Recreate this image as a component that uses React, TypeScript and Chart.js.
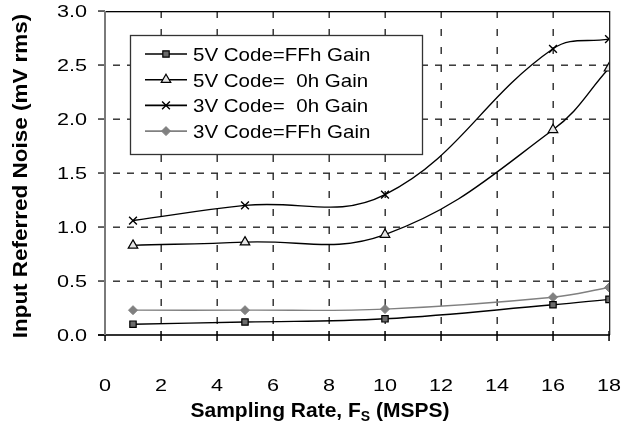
import React, { useEffect, useRef } from 'react';
import { Chart, registerables } from 'chart.js';
import { drawPoint } from 'chart.js/helpers';

Chart.register(...registerables);

// ---- data ----
const sampleRates = [1, 5, 10, 16, 18];
const v5CodeFFh = [0.10, 0.12, 0.15, 0.28, 0.33];
const v5Code0h = [0.83, 0.86, 0.93, 1.90, 2.47];
const v3Code0h = [1.06, 1.20, 1.30, 2.65, 2.74];
const v3CodeFFh = [0.23, 0.23, 0.24, 0.35, 0.44];
const seriesLabels = ['5V Code=FFh Gain', '5V Code=  0h Gain', '3V Code=  0h Gain', '3V Code=FFh Gain'];
const xTickValues = [0, 2, 4, 6, 8, 10, 12, 14, 16, 18];
const xTickLabels = ['0', '2', '4', '6', '8', '10', '12', '14', '16', '18'];
const yTickValues = [0, 0.5, 1, 1.5, 2, 2.5, 3];
const yTickLabels = ['0.0', '0.5', '1.0', '1.5', '2.0', '2.5', '3.0'];
const yTitle = 'Input Referred Noise (mV rms)';
const xTitleMain = 'Sampling Rate, F';
const xTitleSub = 'S';
const xTitleEnd = ' (MSPS)';

const FONT = '"Liberation Sans", Arial, sans-serif';

function stretchText(ctx: CanvasRenderingContext2D, text: string, x: number, y: number, font: string, sx: number, align: CanvasTextAlign) {
  ctx.save();
  ctx.font = font;
  ctx.translate(x, y);
  ctx.scale(sx, 1);
  ctx.textAlign = align;
  ctx.textBaseline = 'alphabetic';
  ctx.fillStyle = '#000';
  ctx.fillText(text, 0, 0);
  ctx.restore();
}

function drawGridAndFrame(chart: any) {
  const { ctx, chartArea: a } = chart;
  const xs = chart.scales['x'];
  const ys = chart.scales['y'];
  const left = Math.round(a.left);
  const right = Math.round(a.right);
  const top = Math.round(a.top);
  const bottom = Math.round(a.bottom);
  ctx.save();
  ctx.fillStyle = '#2a2a2a';
  // horizontal dashed grid, drawn as small filled rectangles
  for (let i = 1; i < yTickValues.length - 1; i++) {
    const y = Math.round(ys.getPixelForValue(yTickValues[i]));
    for (let d = left + 8; d < right; d += 14) {
      ctx.fillRect(d, y - 0.5, Math.min(7, right - d), 1.4);
    }
  }
  // vertical dashed grid
  for (let i = 1; i < xTickValues.length - 1; i++) {
    const x = Math.round(xs.getPixelForValue(xTickValues[i]));
    for (let d = top; d < bottom; d += 18) {
      ctx.fillRect(x - 0.5, d, 1.4, Math.min(7, bottom - d));
    }
  }
  // tick marks
  ctx.fillStyle = '#000000';
  for (let i = 0; i < xTickValues.length; i++) {
    const x = Math.round(xs.getPixelForValue(xTickValues[i]));
    ctx.fillRect(x - 0.7, bottom - 4, 1.5, 10);
  }
  ctx.fillStyle = '#333333';
  for (let i = 0; i < yTickValues.length; i++) {
    const y = Math.round(ys.getPixelForValue(yTickValues[i]));
    ctx.fillRect(left - 7, y - 0.7, 7, 1.5);
  }
  // frame: top and right
  ctx.fillStyle = '#000000';
  ctx.fillRect(left, top, right - left + 1, 1.3);
  ctx.fillStyle = '#222222';
  ctx.fillRect(right, top, 1.3, bottom - top);
  // x axis
  ctx.fillStyle = '#000000';
  ctx.fillRect(left - 7, bottom - 0.8, right - left + 8, 1.6);
  // y axis
  ctx.fillStyle = '#7a7a7a';
  ctx.fillRect(left - 1, top, 2, bottom - top);
  ctx.restore();
}

const gridPlugin = {
  id: 'customGrid',
  beforeDatasetsDraw(chart: any) {
    drawGridAndFrame(chart);
  },
};

const textPlugin = {
  id: 'texts',
  afterDraw(chart: any) {
    const { ctx } = chart;
    const xs = chart.scales['x'];
    const ys = chart.scales['y'];
    const tickFont = `16px ${FONT}`;
    yTickValues.forEach((v, i) => {
      stretchText(ctx, yTickLabels[i], 87, ys.getPixelForValue(v) + 5.7, tickFont, 1.35, 'right');
    });
    xTickValues.forEach((v, i) => {
      stretchText(ctx, xTickLabels[i], xs.getPixelForValue(v), 391, tickFont, 1.35, 'center');
    });

    // y title
    ctx.save();
    ctx.translate(27, 176);
    ctx.rotate(-Math.PI / 2);
    ctx.scale(1.07, 1);
    ctx.font = `bold 21px ${FONT}`;
    ctx.fillStyle = '#000';
    ctx.textAlign = 'center';
    ctx.textBaseline = 'alphabetic';
    ctx.fillText(yTitle, 0, 0);
    ctx.restore();

    // x title with subscript
    ctx.save();
    const mainFont = `bold 21px ${FONT}`;
    const subFont = `bold 14px ${FONT}`;
    ctx.font = mainFont;
    const w1 = ctx.measureText(xTitleMain).width;
    const w3 = ctx.measureText(xTitleEnd).width;
    ctx.font = subFont;
    const w2 = ctx.measureText(xTitleSub).width;
    const total = w1 + w2 + w3;
    let x = 320 - total / 2;
    const base = 417;
    ctx.fillStyle = '#000';
    ctx.textAlign = 'left';
    ctx.textBaseline = 'alphabetic';
    ctx.font = mainFont;
    ctx.fillText(xTitleMain, x, base);
    x += w1;
    ctx.font = subFont;
    ctx.fillText(xTitleSub, x, base + 4);
    x += w2;
    ctx.font = mainFont;
    ctx.fillText(xTitleEnd, x, base);
    ctx.restore();

    // legend box
    ctx.save();
    ctx.fillStyle = '#fff';
    ctx.fillRect(130, 35, 292, 119);
    ctx.strokeStyle = '#333';
    ctx.lineWidth = 1.3;
    ctx.strokeRect(130.5, 35.5, 292, 119);
    chart.data.datasets.forEach((ds: any, i: number) => {
      const baseY = 61 + i * 25.7;
      const my = baseY - 7;
      ctx.strokeStyle = ds.borderColor;
      ctx.lineWidth = 1.6;
      ctx.beginPath();
      ctx.moveTo(145, my);
      ctx.lineTo(187, my);
      ctx.stroke();
      ctx.fillStyle = ds.pointBackgroundColor;
      ctx.strokeStyle = ds.pointBorderColor;
      ctx.lineWidth = ds.pointBorderWidth;
      drawPoint(ctx, { pointStyle: ds.pointStyle, radius: ds.pointRadius, rotation: 0, borderWidth: ds.pointBorderWidth }, 166, my);
      stretchText(ctx, ds.label, 193, baseY, `19px ${FONT}`, 1.08, 'left');
    });
    ctx.restore();
  },
};

const toPoints = (ys: number[]) => sampleRates.map((x, i) => ({ x, y: ys[i] }));

export default function App() {
  const ref = useRef<HTMLCanvasElement | null>(null);
  useEffect(() => {
    document.body.style.margin = '0';
    if (!ref.current) return;
    const chart = new Chart(ref.current, {
      type: 'line',
      data: {
        datasets: [
          {
            label: seriesLabels[0],
            data: toPoints(v5CodeFFh),
            borderColor: '#000',
            borderWidth: 1.4,
            pointStyle: 'rect',
            pointRadius: 4.5,
            pointBackgroundColor: '#6b6b6b',
            pointBorderColor: '#000',
            pointBorderWidth: 1.2,
          },
          {
            label: seriesLabels[1],
            data: toPoints(v5Code0h),
            borderColor: '#000',
            borderWidth: 1.4,
            pointStyle: 'triangle',
            pointRadius: 5.5,
            pointBackgroundColor: '#e6e6e6',
            pointBorderColor: '#000',
            pointBorderWidth: 1.2,
          },
          {
            label: seriesLabels[2],
            data: toPoints(v3Code0h),
            borderColor: '#000',
            borderWidth: 1.4,
            pointStyle: 'crossRot',
            pointRadius: 5.5,
            pointBackgroundColor: '#000',
            pointBorderColor: '#000',
            pointBorderWidth: 1.4,
          },
          {
            label: seriesLabels[3],
            data: toPoints(v3CodeFFh),
            borderColor: '#808080',
            borderWidth: 1.4,
            pointStyle: 'rectRot',
            pointRadius: 4.5,
            pointBackgroundColor: '#808080',
            pointBorderColor: '#808080',
            pointBorderWidth: 1,
          },
        ],
      },
      options: {
        animation: false,
        responsive: true,
        maintainAspectRatio: false,
        layout: { padding: { top: 11, right: 17, left: 0, bottom: 0 } },
        elements: { line: { tension: 0.4 } },
        plugins: { legend: { display: false }, tooltip: { enabled: false }, title: { display: false } },
        scales: {
          x: {
            type: 'linear',
            min: 0,
            max: 18,
            afterFit: (s: any) => { s.height = 89; },
            ticks: { display: false, stepSize: 2 },
            grid: { display: false },
            border: { display: false },
          },
          y: {
            type: 'linear',
            min: 0,
            max: 3,
            afterFit: (s: any) => { s.width = 105; },
            ticks: { display: false, stepSize: 0.5 },
            grid: { display: false },
            border: { display: false },
          },
        },
      },
      plugins: [gridPlugin, textPlugin],
    } as any);
    return () => chart.destroy();
  }, []);
  return (
    <div style={{ position: 'relative', width: 626, height: 424 }}>
      <canvas ref={ref} />
    </div>
  );
}
